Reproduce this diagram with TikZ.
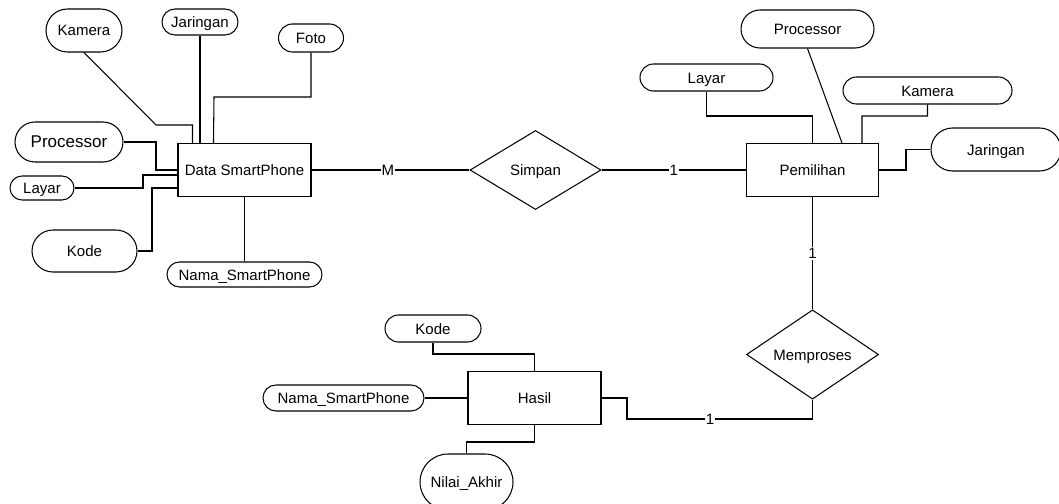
\documentclass[tikz,border=0pt]{standalone}
\usepackage{fontspec}
\setmainfont{Liberation Sans}
\usetikzlibrary{shapes.geometric,shapes.misc,calc}

\tikzset{
  base/.style={draw=black, line width=1.05pt, font=\fontsize{15}{17}\selectfont, text=black,
               inner sep=0pt, text height=11pt, text depth=0pt},
  entity/.style={base, rectangle, minimum width=133pt, minimum height=53pt},
  attr/.style={base, rounded rectangle, fill=white},
  rel/.style={base, diamond, minimum width=131pt, minimum height=79pt},
  link/.style={draw=black, line width=1.05pt},
  card/.style={fill=white, inner sep=1pt, font=\fontsize{15}{17}\selectfont, text=black,
               text height=11pt, text depth=0pt}
}

\begin{document}
\begin{tikzpicture}[x=1pt, y=-1pt]
  \useasboundingbox (0,0) rectangle (1059,503);
  \clip (0,0) rectangle (1059,503);

  % ---------- entity: Data SmartPhone ----------
  \node[entity] (ds) at (244.5,170) {Data SmartPhone};
  \node[attr, minimum width=76pt, minimum height=43pt] (kamL) at (84,30.5) {Kamera};
  \node[attr, minimum width=76pt, minimum height=26pt] (jarL) at (200,22) {Jaringan};
  \node[attr, minimum width=65pt, minimum height=28pt] (fotoL) at (311,38) {Foto};
  \node[attr, minimum width=108pt, minimum height=40pt, font=\fontsize{17}{19}\selectfont] (procL) at (69,142) {Processor};
  \node[attr, minimum width=64pt, minimum height=24pt] (layL) at (42,188) {Layar};
  \node[attr, minimum width=105pt, minimum height=42pt] (kodeL) at (84.5,251) {Kode};
  \node[attr, minimum width=155pt, minimum height=25pt] (namaL) at (244.5,274.5) {Nama\_SmartPhone};

  \draw[link] (kamL.south) -- (156,125) -| ($(ds.north west)+(15,0)$);
  \draw[link] (jarL.south) -- (jarL.south |- ds.north);
  \draw[link] (fotoL.south) |- (214,97) -- ($(ds.north west)+(36,0)$);
  \draw[link] (procL.east) -| (156,170) -- (ds.west);
  \draw[link] (layL.east) -| (143,175) -- ($(ds.west)+(0,5)$);
  \draw[link] (kodeL.east) -| (152,188) -- ($(ds.west)+(0,18)$);
  \draw[link] (ds.south) -- (namaL.north);

  % ---------- relationship: Simpan ----------
  \node[rel] (simpan) at (535.5,170) {Simpan};
  \draw[link] (ds.east) -- node[card, pos=0.484] {M} (simpan.west);

  % ---------- entity: Pemilihan ----------
  \node[entity, minimum width=132pt] (pem) at (812.5,170) {Pemilihan};
  \draw[link] (simpan.east) -- node[card, pos=0.5] {1} (pem.west);

  \node[attr, minimum width=133pt, minimum height=38pt] (procR) at (807.5,29) {Processor};
  \node[attr, minimum width=133pt, minimum height=27pt] (layR) at (706.5,77.5) {Layar};
  \node[attr, minimum width=169pt, minimum height=27pt] (kamR) at (927.5,90.5) {Kamera};
  \node[attr, minimum width=130pt, minimum height=43pt] (jarR) at (996,149.5) {Jaringan};

  \draw[link] (layR.south) |- (812.5,116) -- (pem.north);
  \draw[link] (procR.south) -- ($(pem.north west)+(96,0)$);
  \draw[link] (kamR.south) |- (862,116) -- ($(pem.north west)+(116,0)$);
  \draw[link] (jarR.west) -| (906,170) -- (pem.east);

  % ---------- relationship: Memproses ----------
  \node[rel, minimum width=132pt] (mem) at (812.5,354.5) {Memproses};
  \draw[link] (pem.south) -- node[card, pos=0.5] {1} (mem.north);

  % ---------- entity: Hasil ----------
  \node[entity] (hasil) at (534.5,398) {Hasil};
  \node[attr, minimum width=96pt, minimum height=27pt] (kodeB) at (433,328.5) {Kode};
  \node[attr, minimum width=161pt, minimum height=26pt] (namaB) at (343.5,398) {Nama\_SmartPhone};
  \node[attr, minimum width=93pt, minimum height=56pt] (nilai) at (466.5,482) {Nilai\_Akhir};

  \draw[link] (kodeB.south) |- (534.5,354) -- (hasil.north);
  \draw[link] (namaB.east) -- (hasil.west);
  \draw[link] (hasil.south) |- (466.5,442) -- (nilai.north);

  \coordinate (hb) at (627,419);
  \coordinate (mb) at (812.5,419);
  \draw[link] (hasil.east) -| (hb) -- node[card, pos=0.447] {1} (mb) -- (mem.south);
\end{tikzpicture}
\end{document}
